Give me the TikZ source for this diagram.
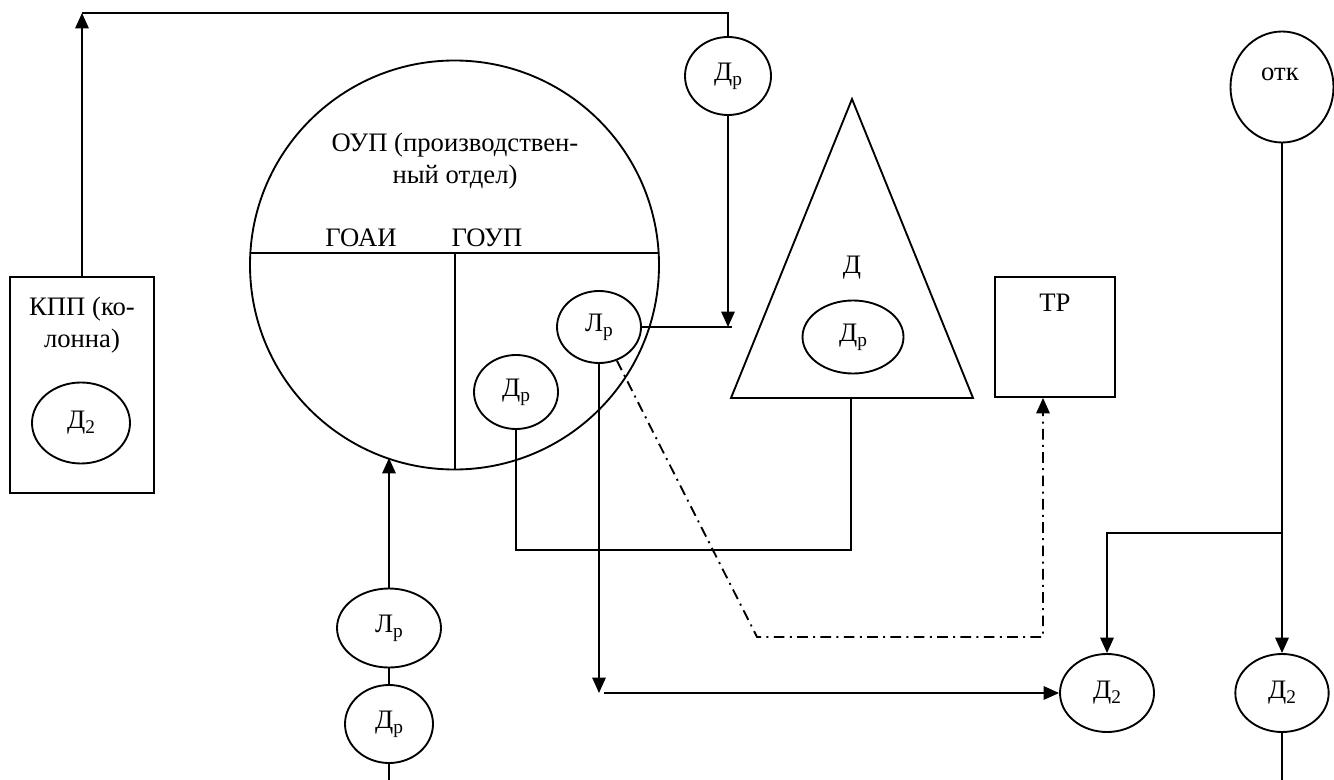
\documentclass[tikz,border=0pt]{standalone}
\usepackage{fontspec}
\setmainfont{Liberation Serif}
\usetikzlibrary{arrows.meta,shapes.geometric,calc,positioning}
\newcommand{\low}[1]{\raisebox{-0.4ex}{\fontsize{14.5}{14.5}\selectfont #1}}

\begin{document}
\begin{tikzpicture}[x=0.75pt, y=-0.75pt, line join=miter]
		
		% Styles
		\tikzset{
			ln/.style={line width=1.4pt},
			oval/.style={ellipse, draw, ln, inner sep=0pt,
				font=\fontsize{20}{24}\selectfont},
			blk/.style={rectangle, draw, ln, inner sep=0pt},
			lbl/.style={font=\fontsize{20}{24}\selectfont, align=center, inner sep=0pt},
			arr/.style={ln, -{Triangle[width=10pt,length=11.5pt]}},
			arrDash/.style={arr, dash pattern=on 8pt off 4pt on 1.5pt off 4pt}
		}
		
		\useasboundingbox (0,0) rectangle (1334,780);
		
		% Nodes
		\node[circle, draw, ln, minimum size=306.75pt, inner sep=0pt] (oup) at (454.5,265) {};
		\node[lbl] (oupT) at (455,161) {ОУП (производствен-\\ный отдел)};
		\node[lbl] (goai) at (361,238) {ГОАИ};
		\node[lbl] (goup) at (487,238) {ГОУП};
		\node[oval, minimum width=63pt, minimum height=54pt] (lrIn) at (599,327) {Л\low{р}};
		\node[oval, minimum width=63pt, minimum height=55.5pt] (drIn) at (516,392) {Д\low{р}};
		
		\node[oval, minimum width=64.5pt, minimum height=58.5pt] (drTop) at (728,76) {Д\low{р}};
		
		\node[blk, minimum width=108pt, minimum height=162pt] (kpp) at (82,385) {};
		\node[lbl] (kppT) at (82,325) {КПП (ко-\\лонна)};
		\node[oval, minimum width=73.5pt, minimum height=60.75pt] (d2K) at (81,423) {Д\low{2}};
		
		% triangle
		\coordinate (triA) at (852,99);
		\coordinate (triL) at (731,398);
		\coordinate (triR) at (973,398);
		\coordinate (triB) at (851,398);
		\draw[ln] (triA) -- (triL) -- (triR) -- cycle;
		\node[lbl] (dT) at (852,268) {Д};
		\node[oval, minimum width=75.75pt, minimum height=54.75pt] (drTri) at (853,337) {Д\low{р}};
		
		\node[blk, minimum width=90pt, minimum height=90pt] (tr) at (1055,337) {};
		\node[lbl] (trT) at (1055,303) {ТР};
		
		\node[oval, minimum width=77.25pt, minimum height=83.25pt] (otk) at (1282,87) {};
		\node[lbl] (otkT) at (1280,74) {отк};
		
		\node[oval, minimum width=78pt, minimum height=59.25pt] (lowLr) at (389,628) {Л\low{р}};
		\node[oval, minimum width=66pt, minimum height=58.5pt] (lowDr) at (389,724) {Д\low{р}};
		
		\node[oval, minimum width=70.5pt, minimum height=58.5pt] (d2a) at (1107,693) {Д\low{2}};
		\node[oval, minimum width=70pt, minimum height=58.5pt] (d2b) at (1282,693) {Д\low{2}};
		
		% Inner divisions of the circle
		\coordinate (chL) at ($(oup.center)+(-204.1,-12)$);
		\coordinate (chR) at ($(oup.center)+(204.1,-12)$);
		\coordinate (cMid) at ($(oup.center)+(0.5,-12)$);
		\draw[ln] (chL) -- (chR);
		\draw[ln] (cMid) -- (cMid |- oup.south);
		
		% Connectors
		\coordinate (cTL) at (82,13);
		\coordinate (cTR) at (728,13);
		\draw[arr] (kpp.north) -- (cTL);
		\draw[ln] (cTL) -- (cTR) -- (drTop.north);
		
		\coordinate (cJn) at (728,327);
		\draw[arr] (drTop.south) -- (cJn);
		\draw[ln] (lrIn.east) -- ([xshift=3pt]cJn);
		
		\coordinate (cLow) at (851,550);
		\draw[ln] (drIn.south) |- (cLow) -- (triB);
		
		\coordinate (cBot) at (599,693);
		\draw[arr] (lrIn.south) -- (cBot);
		\draw[arr] ([xshift=4pt]cBot) -- (d2a.west);
		
		\coordinate (cDd) at (757,637);
		\draw[arrDash] (lrIn.-62) -- (cDd) -| ([xshift=-9pt]tr.south);
		
		\coordinate (cUp) at (389,458);
		\draw[arr] (lowLr.north) -- (cUp);
		\draw[ln] (lowLr.south) -- (lowDr.north);
		\coordinate (cEnd1) at (389,780);
		\draw[ln] (lowDr.south) -- (cEnd1);
		
		\coordinate (cBr) at (1282,533);
		\draw[arr] (otk.south) -- (d2b.north);
		\draw[arr] (cBr) -| (d2a.north);
		\coordinate (cEnd2) at (1282,780);
		\draw[ln] (d2b.south) -- (cEnd2);
		
	\end{tikzpicture}
\end{document}
